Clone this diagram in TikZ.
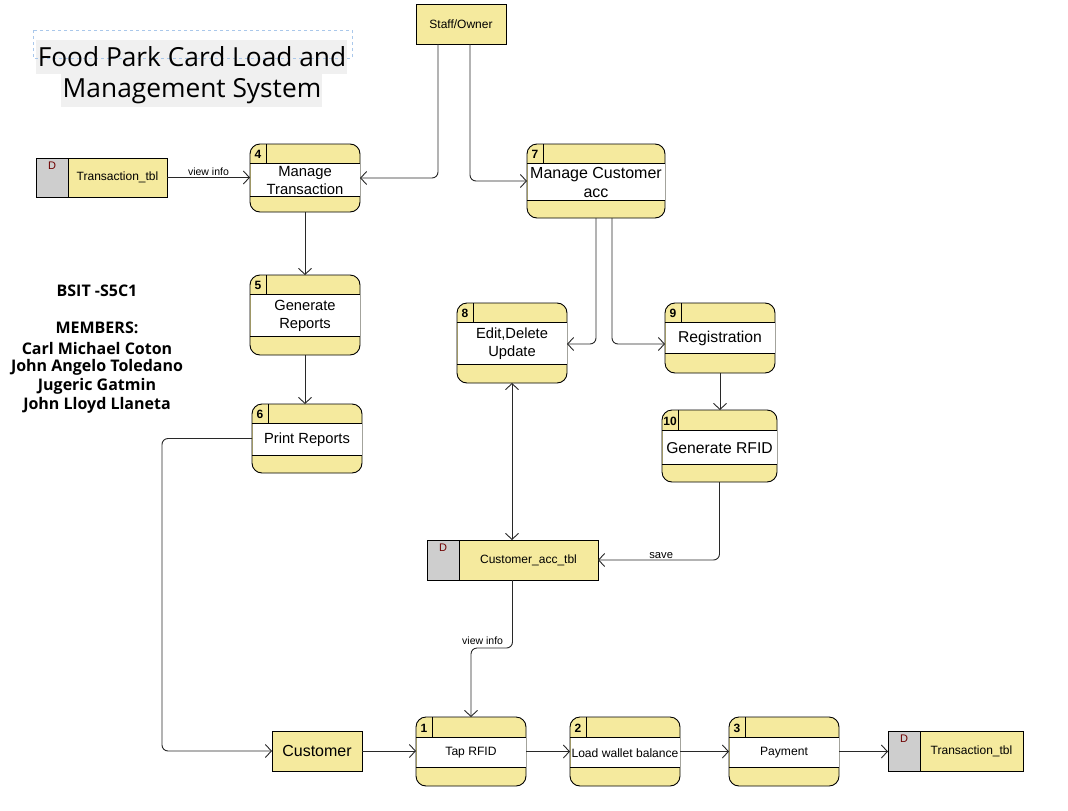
\documentclass[tikz,border=0pt]{standalone}
\usepackage{fontspec}
\setmainfont{Liberation Sans}
\newfontfamily\titlefont{Open Sans}
\usetikzlibrary{arrows.meta,calc}
\definecolor{dfdyellow}{RGB}{245,234,158}
\definecolor{storegray}{RGB}{206,206,206}
\definecolor{lncol}{RGB}{40,40,40}
\definecolor{titlebg}{RGB}{240,240,240}
\definecolor{selblue}{RGB}{170,200,235}
\definecolor{dred}{RGB}{110,0,0}
\newcommand\fs[1]{\fontsize{#1}{\fpeval{#1*1.2}}\selectfont}
\def\pfs{13}
\tikzset{
  proc/.style={draw=black, fill=dfdyellow, rounded corners=10pt, line width=0.9pt, outer sep=0pt, inner sep=0pt},
  store/.style={draw=black, fill=dfdyellow, line width=0.9pt, outer sep=0pt, inner sep=0pt},
  ext/.style={draw=black, fill=dfdyellow, line width=0.9pt, outer sep=0pt, inner sep=0pt},
  flow/.style={draw=lncol, line width=0.9pt, -{Straight Barb[length=6pt,width=13pt]}, rounded corners=6pt},
  biflow/.style={draw=lncol, line width=0.9pt, {Straight Barb[length=6pt,width=13pt]}-{Straight Barb[length=6pt,width=13pt]}},
  band/.style={draw=black, line width=0.9pt},
  numtext/.style={font=\bfseries\fs{12}},
  lbl/.style={font=\fs{10.5}, inner sep=1pt},
  member/.style={font=\titlefont\bfseries\fs{16}, inner sep=0pt},
}
% name, x1, y1, x2, y2, ya, yb, num, text  (font size from \pfs)
\newcommand\procbox[9]{%
  \node[proc, minimum width={#4-#2}, minimum height={#5-#3}] (#1) at ({(#2+#4)/2},{(#3+#5)/2}) {};
  \fill[white] ({#2+0.5},#6) rectangle ({#4-0.5},#7);
  \draw[band] (#2,#6) -- (#4,#6);
  \draw[band] (#2,#7) -- (#4,#7);
  \draw[band] ({#2+16},#3) -- ({#2+16},#6);
  \node[numtext, inner sep=0pt] at ({#2+8},{(#3+#6)/2+1}) {#8};
  \node[align=center, inner sep=0pt, font=\fs{\pfs}] at ({(#2+#4)/2},{(#6+#7)/2+1}) {#9};
}
% name, x1, y1, x2, y2, text
\newcommand\dstore[6]{%
  \node[store, minimum width={#4-#2}, minimum height={#5-#3}] (#1) at ({(#2+#4)/2},{(#3+#5)/2}) {};
  \filldraw[fill=storegray, draw=black, line width=0.9pt] (#2,#3) rectangle ({#2+32},#5);
  \node[font=\fs{11}, text=dred, inner sep=0pt] at ({#2+16},{#3+8}) {D};
  \node[font=\fs{12}, inner sep=0pt] at ({(#2+32+#4)/2},{(#3+#5)/2}) {#6};
}
\begin{document}
\begin{tikzpicture}[x=1pt,y=-1pt]
\useasboundingbox (0,0) rectangle (1068,811);
\fill[white] (0,0) rectangle (1068,811);

% title
\fill[titlebg] (36,40) rectangle (347,74);
\fill[titlebg] (61,74) rectangle (322,107);
\draw[selblue, dashed, line width=0.6pt] (33,30) rectangle (352,58);
\node[font=\titlefont\fs{26.3}, inner sep=0pt] (title1) at (192,57) {Food Park Card Load and};
\node[font=\titlefont\fs{26.3}, inner sep=0pt] (title2) at (192,91) {Management System};

% members
\node[member] (m1) at (97,291) {BSIT -S5C1};
\node[member] (m2) at (97,328) {MEMBERS:};
\node[member] (m3) at (97,348) {Carl Michael Coton};
\node[member] (m4) at (97,367) {John Angelo Toledano};
\node[member] (m5) at (97,386) {Jugeric Gatmin};
\node[member] (m6) at (97,405) {John Lloyd Llaneta};

% external entities
\node[ext, minimum width=90, minimum height=40, font=\fs{12}] (staff) at (461,24) {Staff/Owner};
\node[ext, minimum width=90, minimum height=40, font=\fs{16}] (cust) at (317,751) {Customer};

% data stores
\dstore{tt1}{36}{158}{167}{197}{Transaction\_tbl}
\dstore{cat}{427}{540}{598}{580}{Customer\_acc\_tbl}
\dstore{tt2}{888}{731}{1023}{771}{Transaction\_tbl}

% processes
\def\pfs{14.8}
\procbox{p4}{250}{144}{360}{212}{163}{196}{4}{Manage\\Transaction}
\def\pfs{16}
\procbox{p7}{527}{144}{665}{218}{163}{200}{7}{Manage Customer\\acc}
\def\pfs{14.7}
\procbox{p5}{250}{275}{360}{355}{294}{336}{5}{Generate\\Reports}
\procbox{p6}{252}{404}{362}{473}{423}{455}{6}{Print Reports}
\procbox{p8}{457}{303}{567}{383}{322}{364}{8}{Edit,Delete\\Update}
\def\pfs{15.7}
\procbox{p9}{665}{303}{775}{373}{322}{353}{9}{Registration}
\procbox{p10}{662}{410}{777}{482}{430}{464}{10}{Generate RFID}
\def\pfs{12.1}
\procbox{p1}{416}{717}{526}{786}{737}{767}{1}{Tap RFID}
\procbox{p2}{570}{717}{680}{786}{737}{767}{2}{Load wallet balance}
\procbox{p3}{729}{717}{839}{786}{737}{767}{3}{Payment}

% flows
\draw[flow] (tt1.east) -- (tt1.east -| p4.west) node[lbl, midway, above] {view info};
\draw[flow] ([xshift=-23pt]staff.south) |- (p4.east);
\draw[flow] ([xshift=9pt]staff.south) |- (p7.west);
\draw[flow] (p4.south) -- (p4.south |- p5.north);
\draw[flow] (p5.south) -- (p5.south |- p6.north);
\draw[flow] (p7.south) |- ($(p8.east)+(0,1)$);
\draw[flow] ([xshift=16pt]p7.south) |- ($(p9.west)+(0,6)$);
\draw[flow] (p9.south) -- (p9.south |- p10.north);
\draw[flow] (p10.south) |- (cat.east) node[lbl, font=\fs{11.2}, pos=0.74, above] {save};
\draw[biflow] (p8.south) -- (p8.south |- cat.north);
\draw[flow] (cat.south) |- ([yshift=69pt]p1.north) node[lbl, pos=0.86, above=2pt] {view info} -- (p1.north);
\draw[flow] (p6.west) -- ++(-90,0) |- (cust.west);
\draw[flow] (cust.east) -- (cust.east -| p1.west);
\draw[flow] (p1.east) -- (p2.west);
\draw[flow] (p2.east) -- (p3.west);
\draw[flow] (p3.east) -- (p3.east -| tt2.west);
\end{tikzpicture}
\end{document}
